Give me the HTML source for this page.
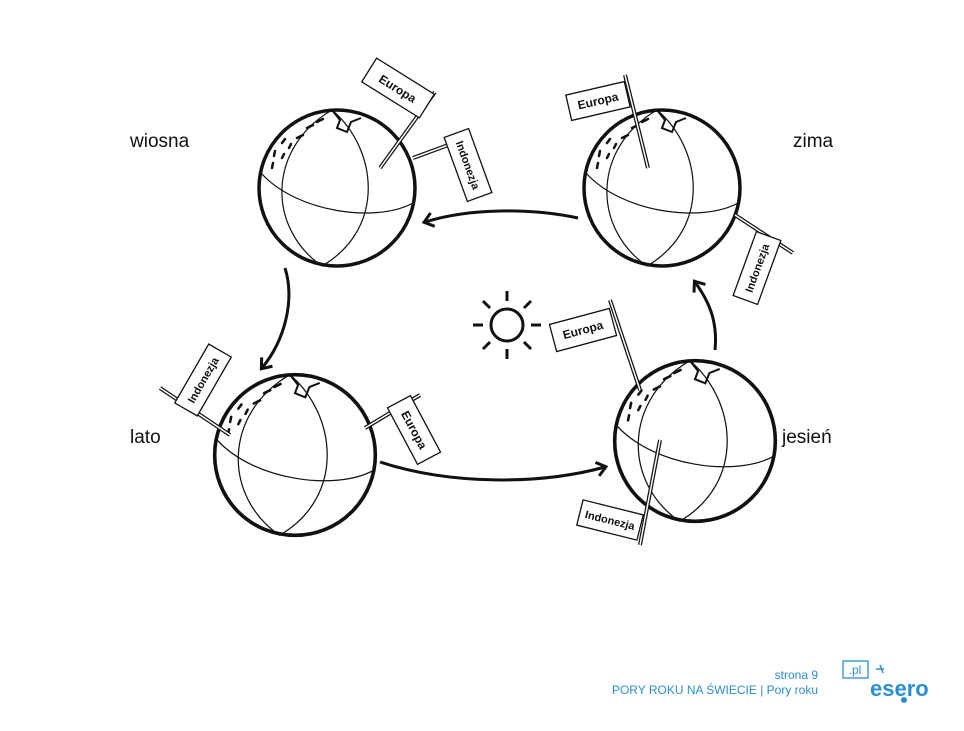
<!DOCTYPE html>
<html><head><meta charset="utf-8"><style>
body{margin:0;background:#fff;width:964px;height:731px;overflow:hidden;font-family:"Liberation Sans",sans-serif}
svg{position:absolute;left:0;top:0}
</style></head><body>
<svg width="964" height="731" viewBox="0 0 964 731" xmlns="http://www.w3.org/2000/svg">
<defs>
<marker id="ah" markerWidth="14" markerHeight="16" refX="9" refY="8" orient="auto" markerUnits="userSpaceOnUse">
<path d="M1,1 L10,8 L1,15" fill="none" stroke="#111" stroke-width="3"/>
</marker>
<g id="globe">
<circle r="78" fill="#fff" stroke="#111" stroke-width="3.5"/>
<path d="M-76,-15 C-40,25 40,35 76,15" fill="none" stroke="#111" stroke-width="1.2"/>
<path d="M-5,-78 C-70,-40 -70,40 -15,78" fill="none" stroke="#111" stroke-width="1.2"/>
<path d="M-5,-78 C40,-40 50,40 -15,78" fill="none" stroke="#111" stroke-width="1.2"/>
<path d="M-5,-78 l8,10 l-3,8 l10,4 l4,-10 l10,-4" fill="none" stroke="#111" stroke-width="2"/>
<g stroke="#111" stroke-width="2.5" stroke-linecap="round">
<path d="M-30,-60 l6,-3 M-40,-50 l6,-3 M-55,-45 l3,-4 M-63,-32 l1,-5 M-65,-20 l1,-5 M-55,-30 l2,-4 M-48,-40 l2,-4 M-20,-66 l6,-3"/>
</g>
</g>
</defs>
<g font-size="19" fill="#111">
<text x="130" y="147">wiosna</text>
<text x="793" y="147">zima</text>
<text x="130" y="443">lato</text>
<text x="782" y="443">jesień</text>
</g>
<use href="#globe" x="337" y="188"/>
<use href="#globe" x="662" y="188"/>
<use href="#globe" x="295" y="455" transform="translate(295,455) scale(1.03) translate(-295,-455)"/>
<use href="#globe" x="695" y="441" transform="translate(695,441) scale(1.03) translate(-695,-441)"/>
<g stroke="#111" stroke-width="3" fill="none">
<path d="M578,218 C530,208 470,208 425,222" marker-end="url(#ah)"/>
<path d="M285,268 C295,300 285,340 262,368" marker-end="url(#ah)"/>
<path d="M380,462 C450,485 540,485 605,467" marker-end="url(#ah)"/>
<path d="M715,350 C718,320 708,300 695,282" marker-end="url(#ah)"/>
</g>
<g stroke="#111" stroke-width="3" fill="none" transform="translate(507,325)">
<circle r="16"/>
<path d="M0,-24 v-10 M0,24 v10 M-24,0 h-10 M24,0 h10 M17,-17 l7,-7 M-17,-17 l-7,-7 M17,17 l7,7 M-17,17 l-7,7"/>
</g>
<g stroke="#111" stroke-width="1.3" fill="#fff">
<path d="M380,168 L435,92" stroke-width="4"/><path d="M380,168 L435,92" stroke="#fff" stroke-width="1.5"/>
<path d="M413,158 L470,137" stroke-width="4"/><path d="M413,158 L470,137" stroke="#fff" stroke-width="1.5"/>
<path d="M648,168 L625,75" stroke-width="4"/><path d="M648,168 L625,75" stroke="#fff" stroke-width="1.5"/>
<path d="M735,215 L793,253" stroke-width="4"/><path d="M735,215 L793,253" stroke="#fff" stroke-width="1.5"/>
<path d="M160,388 L230,435" stroke-width="4"/><path d="M160,388 L230,435" stroke="#fff" stroke-width="1.5"/>
<path d="M365,428 L420,395" stroke-width="4"/><path d="M365,428 L420,395" stroke="#fff" stroke-width="1.5"/>
<path d="M640,390 L610,300" stroke-width="4"/><path d="M640,390 L610,300" stroke="#fff" stroke-width="1.5"/>
<path d="M660,440 L640,545" stroke-width="4"/><path d="M660,440 L640,545" stroke="#fff" stroke-width="1.5"/>
</g>
<g font-size="12" font-weight="bold" fill="#111" text-anchor="middle">
<g transform="translate(398,88) rotate(32)"><rect x="-34" y="-14" width="68" height="28" fill="#fff" stroke="#111" stroke-width="1.3"/><text y="5">Europa</text></g>
<g transform="translate(468,165) rotate(70)"><rect x="-34" y="-13" width="68" height="26" fill="#fff" stroke="#111" stroke-width="1.3"/><text y="4" font-size="11">Indonezja</text></g>
<g transform="translate(598,101) rotate(-13)"><rect x="-30" y="-13" width="60" height="26" fill="#fff" stroke="#111" stroke-width="1.3"/><text y="4">Europa</text></g>
<g transform="translate(757,268) rotate(-70)"><rect x="-34" y="-13" width="68" height="26" fill="#fff" stroke="#111" stroke-width="1.3"/><text y="4" font-size="11">Indonezja</text></g>
<g transform="translate(203,380) rotate(-60)"><rect x="-34" y="-13" width="68" height="26" fill="#fff" stroke="#111" stroke-width="1.3"/><text y="4" font-size="11">Indonezja</text></g>
<g transform="translate(414,430) rotate(62)"><rect x="-32" y="-13" width="64" height="26" fill="#fff" stroke="#111" stroke-width="1.3"/><text y="4">Europa</text></g>
<g transform="translate(583,330) rotate(-15)"><rect x="-31" y="-14" width="62" height="28" fill="#fff" stroke="#111" stroke-width="1.3"/><text y="4">Europa</text></g>
<g transform="translate(610,520) rotate(14)"><rect x="-31" y="-13" width="62" height="26" fill="#fff" stroke="#111" stroke-width="1.3"/><text y="4" font-size="11">Indonezja</text></g>
</g>
<g fill="#2a8fd0" font-size="12" text-anchor="end">
<text x="818" y="679">strona 9</text>
<text x="818" y="694">PORY ROKU NA ŚWIECIE | Pory roku</text>
</g>
<rect x="843" y="661" width="25" height="17" fill="none" stroke="#2a8fd0" stroke-width="1.3"/>
<text x="855" y="674" fill="#2a8fd0" font-size="12" text-anchor="middle">.pl</text>
<text x="870" y="696" fill="#2a8fd0" font-size="22" font-weight="bold">esero</text>
<path d="M880,665 l3,8 M876,669 l8,0" stroke="#2a8fd0" stroke-width="1.5"/>
<circle cx="904" cy="700" r="3" fill="#2a8fd0"/>
</svg>
</body></html>
